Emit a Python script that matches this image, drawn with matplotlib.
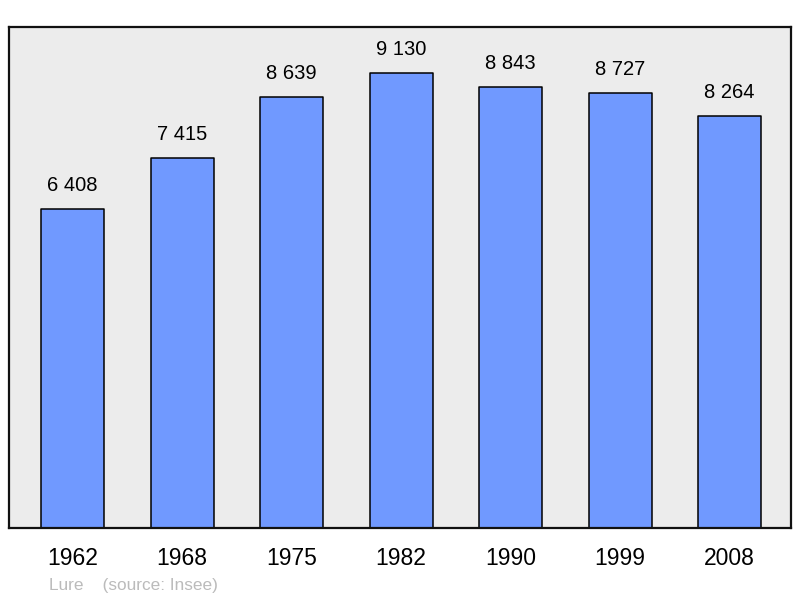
import matplotlib
matplotlib.use("Agg")
import matplotlib.pyplot as plt
import numpy as np

plt.rcParams["font.family"] = ["Liberation Sans", "DejaVu Sans"]

years = ["1962", "1968", "1975", "1982", "1990", "1999", "2008"]
population = [6408, 7415, 8639, 9130, 8843, 8727, 8264]
value_labels = ["6 408", "7 415", "8 639", "9 130", "8 843", "8 727", "8 264"]

fig = plt.figure(figsize=(8, 5.98), dpi=100)
ax = fig.add_axes([9 / 800, 70 / 598, 782 / 800, 501 / 598])
ax.set_facecolor("#ececec")

x = np.arange(len(years))
bars = ax.bar(x, population, width=0.575, color="#7099ff", edgecolor="black",
              linewidth=1.1, joinstyle="round")
for b, lab in zip(bars, value_labels):
    ax.annotate(lab, (b.get_x() + b.get_width() / 2, b.get_height()),
                textcoords="offset points", xytext=(0, 10),
                ha="center", va="bottom", fontsize=14.5)

ax.set_xlim(-0.58, 6.56)
ax.set_ylim(0, 10050)
ax.set_xticks(x)
ax.set_xticklabels(years, fontsize=16.5)
ax.tick_params(axis="x", length=0, pad=13.5)
ax.set_yticks([])
for s in ax.spines.values():
    s.set_linewidth(1.6)
    s.set_color("#111111")

fig.text(49 / 800, 1 - 590 / 598, "Lure    (source: Insee)", color="#bbbbbb",
         fontsize=12.4, va="baseline", ha="left")

fig.savefig("out.png", dpi=100)
